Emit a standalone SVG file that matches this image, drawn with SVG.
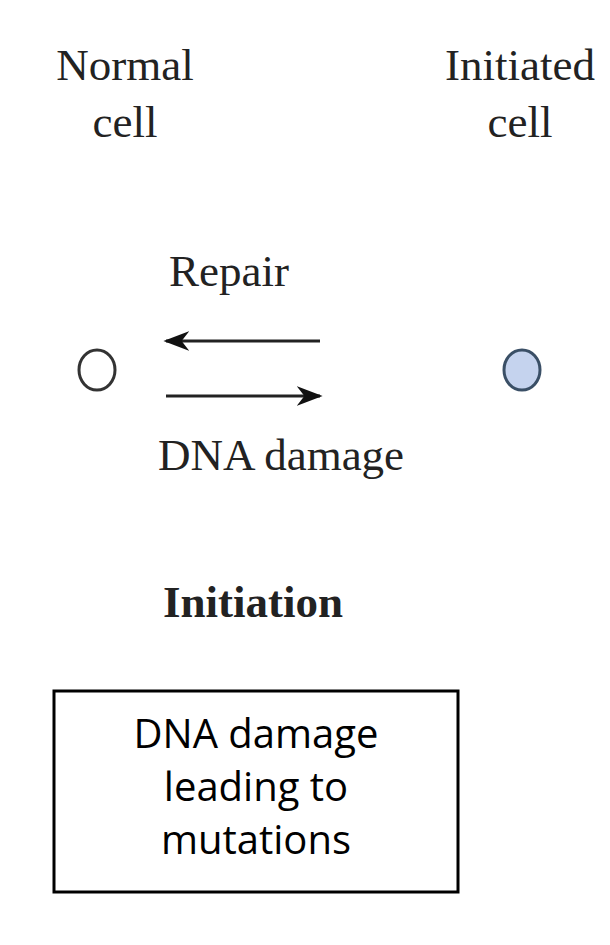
<svg xmlns="http://www.w3.org/2000/svg" width="610" height="945" viewBox="0 0 610 945">
<style>
.s{font-family:"Liberation Serif",serif;font-size:45px;fill:#222;text-anchor:middle}
.b{font-family:"Open Sans","Liberation Sans",sans-serif;font-size:40px;fill:#000;text-anchor:middle}
.a{stroke:#222;stroke-width:3;fill:none}
</style>
<defs><marker id="h" viewBox="0 0 10 10" refX="9" refY="5" markerWidth="26" markerHeight="20" orient="auto" markerUnits="userSpaceOnUse" preserveAspectRatio="none"><path d="M0,0 L10,5 L0,10 L3,5 Z" fill="#111"/></marker></defs>
<rect width="610" height="945" fill="#fff"/>
<g id="normal"><text class="s" x="125" y="80">Normal</text><text class="s" x="125" y="137">cell</text>
<ellipse cx="97" cy="370" rx="18" ry="20" fill="#fff" stroke="#333" stroke-width="3"/></g>
<g id="initiated"><text class="s" x="520" y="80">Initiated</text><text class="s" x="520" y="137">cell</text>
<ellipse cx="522" cy="370" rx="18" ry="20" fill="#c5d3ee" stroke="#3a4f66" stroke-width="3"/></g>
<g id="connectors">
<line class="a" x1="320" y1="341" x2="166" y2="341" marker-end="url(#h)"/>
<line class="a" x1="166" y1="396" x2="320" y2="396" marker-end="url(#h)"/>
<text class="s" x="229" y="286">Repair</text>
<text class="s" x="281" y="470">DNA damage</text>
</g>
<g id="label"><text class="s" x="253" y="617" style="font-weight:bold">Initiation</text></g>
<g id="box"><rect x="54" y="691" width="404" height="201" fill="#fff" stroke="#000" stroke-width="3"/>
<text class="b" x="256" y="748">DNA damage</text><text class="b" x="256" y="801">leading to</text><text class="b" x="256" y="854">mutations</text></g>
</svg>
